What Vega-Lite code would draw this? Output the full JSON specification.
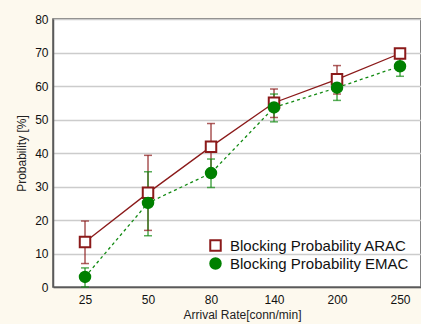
{
  "$schema": "https://vega.github.io/schema/vega-lite/v6.json",
  "width": 368,
  "height": 268,
  "autosize": {"type": "none"},
  "padding": {"left": 53, "top": 19, "right": 0, "bottom": 37},
  "background": "#fdf9ee",
  "config": {
    "view": {"fill": "white", "stroke": "#5a5a5a", "strokeWidth": 1.5},
    "font": "Liberation Sans",
    "legend": {
      "orient": "none",
      "legendX": 155,
      "legendY": 219,
      "labelFontSize": 15,
      "labelLimit": 400,
      "labelColor": "#111",
      "symbolSize": 110,
      "symbolStrokeWidth": 2,
      "rowPadding": -1,
      "labelOffset": 7
    },
    "axisY": {
      "title": "Probability [%]",
      "values": [0, 10, 20, 30, 40, 50, 60, 70, 80],
      "tickCount": 8,
      "grid": true,
      "gridColor": "#cccccc",
      "gridWidth": 1.5,
      "tickSize": 0,
      "labelPadding": 5,
      "labelFontSize": 12,
      "labelColor": "#111",
      "domainColor": "#5a5a5a",
      "domainWidth": 1.5,
      "titleFontSize": 12,
      "titleFontWeight": "normal",
      "titleColor": "#222",
      "titlePadding": 6
    }
  },
  "data": {
    "values": [
      {"rate": "25", "series": "Blocking Probability ARAC", "y": 13.4, "lo": 7.0, "hi": 19.7},
      {"rate": "50", "series": "Blocking Probability ARAC", "y": 28.1, "lo": 16.9, "hi": 39.3},
      {"rate": "80", "series": "Blocking Probability ARAC", "y": 41.9, "lo": 35.0, "hi": 48.8},
      {"rate": "140", "series": "Blocking Probability ARAC", "y": 55.0, "lo": 50.6, "hi": 59.1},
      {"rate": "200", "series": "Blocking Probability ARAC", "y": 62.0, "lo": 57.6, "hi": 66.1},
      {"rate": "250", "series": "Blocking Probability ARAC", "y": 69.7, "lo": 68.2, "hi": 71.1},
      {"rate": "25", "series": "Blocking Probability EMAC", "y": 3.0, "lo": 0.0, "hi": 5.7},
      {"rate": "50", "series": "Blocking Probability EMAC", "y": 25.1, "lo": 15.3, "hi": 34.4},
      {"rate": "80", "series": "Blocking Probability EMAC", "y": 34.0, "lo": 29.7, "hi": 38.2},
      {"rate": "140", "series": "Blocking Probability EMAC", "y": 53.6, "lo": 49.3, "hi": 57.6},
      {"rate": "200", "series": "Blocking Probability EMAC", "y": 59.5, "lo": 55.7, "hi": 63.3},
      {"rate": "250", "series": "Blocking Probability EMAC", "y": 65.9, "lo": 62.9, "hi": 68.8}
    ]
  },
  "encoding": {
    "x": {
      "field": "rate",
      "type": "ordinal",
      "sort": ["25", "50", "80", "140", "200", "250"],
      "scale": {"type": "point", "padding": 0.4206, "align": 0.604},
      "axis": {
        "title": "Arrival Rate[conn/min]",
        "labelAngle": 0,
        "labelFontSize": 12,
        "labelColor": "#111",
        "labelPadding": 7,
        "tickSize": 0,
        "domainColor": "#5a5a5a",
        "domainWidth": 1.5,
        "titleFontSize": 12,
        "titleFontWeight": "normal",
        "titleColor": "#222",
        "titlePadding": 4,
        "titleX": 189,
        "grid": false
      }
    }
  },
  "layer": [
    {
      "mark": {"type": "rule", "strokeWidth": 1.5, "opacity": 0.75},
      "encoding": {
        "y": {"field": "lo", "type": "quantitative", "scale": {"domain": [0, 80], "nice": false}, "title": "Probability [%]"},
        "y2": {"field": "hi"},
        "color": {"field": "series", "type": "nominal", "legend": null,
          "scale": {"range": ["#8b1a1a", "#128a12"]}}
      }
    },
    {
      "mark": {"type": "tick", "orient": "horizontal", "size": 8, "thickness": 1.5, "opacity": 0.7},
      "encoding": {
        "y": {"field": "lo", "type": "quantitative", "title": "Probability [%]"},
        "color": {"field": "series", "type": "nominal", "legend": null}
      }
    },
    {
      "mark": {"type": "tick", "orient": "horizontal", "size": 8, "thickness": 1.5, "opacity": 0.7},
      "encoding": {
        "y": {"field": "hi", "type": "quantitative", "title": "Probability [%]"},
        "color": {"field": "series", "type": "nominal", "legend": null}
      }
    },
    {
      "transform": [{"filter": "datum.series == 'Blocking Probability ARAC'"}],
      "mark": {"type": "line", "strokeWidth": 1.3},
      "encoding": {
        "y": {"field": "y", "type": "quantitative", "title": "Probability [%]"},
        "color": {"field": "series", "type": "nominal", "legend": null}
      }
    },
    {
      "transform": [{"filter": "datum.series == 'Blocking Probability EMAC'"}],
      "mark": {"type": "line", "strokeWidth": 1.3, "strokeDash": [3, 3]},
      "encoding": {
        "y": {"field": "y", "type": "quantitative", "title": "Probability [%]"},
        "color": {"field": "series", "type": "nominal", "legend": null}
      }
    },
    {
      "mark": {"type": "point", "strokeWidth": 2, "opacity": 1},
      "encoding": {
        "y": {"field": "y", "type": "quantitative", "title": "Probability [%]"},
        "shape": {"field": "series", "type": "nominal", "title": null,
          "scale": {"domain": ["Blocking Probability ARAC", "Blocking Probability EMAC"], "range": ["square", "circle"]}},
        "fill": {"field": "series", "type": "nominal", "title": null,
          "scale": {"domain": ["Blocking Probability ARAC", "Blocking Probability EMAC"], "range": ["white", "#008000"]}},
        "stroke": {"field": "series", "type": "nominal", "title": null,
          "scale": {"domain": ["Blocking Probability ARAC", "Blocking Probability EMAC"], "range": ["#8b1a1a", "#008000"]}},
        "size": {"value": 110}
      }
    }
  ]
}
